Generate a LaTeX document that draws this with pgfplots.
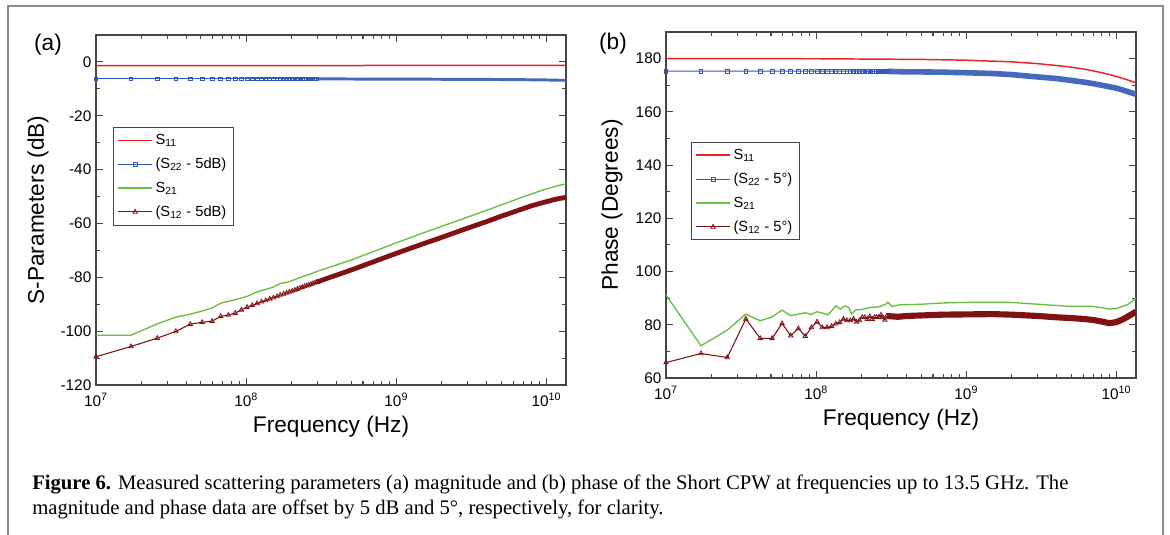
\documentclass[border=0pt]{standalone}
\usepackage{fontspec}
\setmainfont{Liberation Sans}
\newfontfamily\capfont{Liberation Serif}
\usepackage{graphicx}
\usepackage{pgfplots}
\pgfplotsset{compat=1.18}
\usepackage{pgfplotstable}

\definecolor{cRed}{RGB}{236,32,40}
\definecolor{cBlue}{RGB}{52,88,185}
\definecolor{cBand}{RGB}{70,105,190}
\definecolor{cGreen}{RGB}{104,190,62}
\definecolor{cDark}{RGB}{128,18,20}
\definecolor{cAxis}{RGB}{70,70,70}

% low-frequency points (markers visible)
\pgfplotstableread{
f        sa      ta      sb      tb
1.00e7   -6.3   -109.5   175.3   65.8
1.71e7   -6.3   -105.7   175.3   69.2
2.56e7   -6.3   -102.6   175.3   67.7
3.40e7   -6.3   -100.1   175.3   82.2
4.24e7   -6.3    -97.4   175.3   74.9
5.09e7   -6.3    -96.7   175.3   74.9
5.93e7   -6.3    -96.3   175.3   80.5
6.77e7   -6.3    -94.5   175.3   75.9
7.61e7   -6.3    -94.0   175.3   78.6
8.46e7   -6.3    -93.3   175.3   75.7
9.30e7   -6.3    -92.1   175.3   79.0
1.014e8  -6.3    -91.1   175.3   81.1
1.098e8  -6.3    -90.4   175.3   79.0
1.183e8  -6.3    -89.7   175.3   79.0
1.267e8  -6.3    -89.1   175.3   79.4
1.351e8  -6.3    -88.6   175.3   80.4
1.436e8  -6.3    -88.0   175.3   80.9
1.520e8  -6.3    -87.6   175.3   82.2
1.604e8  -6.3    -87.1   175.3   81.6
1.688e8  -6.3    -86.6   175.3   81.6
1.773e8  -6.3    -86.2   175.3   82.2
1.857e8  -6.3    -85.8   175.3   81.1
1.941e8  -6.3    -85.4   175.3   81.6
2.026e8  -6.3    -85.1   175.3   82.8
2.110e8  -6.3    -84.7   175.2   82.8
2.194e8  -6.3    -84.4   175.2   82.1
2.278e8  -6.3    -84.0   175.2   83.1
2.363e8  -6.3    -83.7   175.2   82.1
2.447e8  -6.3    -83.4   175.2   82.8
2.531e8  -6.3    -83.1   175.2   82.8
2.616e8  -6.3    -82.8   175.2   82.8
2.700e8  -6.3    -82.6   175.2   83.7
2.784e8  -6.3    -82.3   175.2   82.8
2.868e8  -6.3    -82.0   175.2   81.8
2.953e8  -6.3    -81.8   175.2   83.3
}\lowtab

% high-frequency points (dense marker band)
\pgfplotstableread{
f        sa      ta      sb      tb
2.953e8  -6.30   -81.8   175.2   83.3
3.5e8    -6.30   -80.3   175.1   83.0
4e8      -6.30   -79.2   175.0   83.3
5e8      -6.35   -77.3   175.0   83.5
7e8      -6.40   -74.3   174.9   83.8
1e9      -6.40   -71.1   174.7   83.9
1.5e9    -6.40   -67.6   174.4   84.0
2e9      -6.45   -65.2   174.0   83.8
3e9      -6.50   -61.7   173.1   83.3
4e9      -6.50   -59.3   172.5   82.8
5e9      -6.55   -57.3   171.8   82.5
6e9      -6.60   -55.8   171.2   82.2
7e9      -6.60   -54.5   170.6   81.8
8e9      -6.65   -53.4   170.0   81.2
9e9      -6.70   -52.6   169.4   80.6
1e10     -6.70   -51.9   168.9   81.0
1.1e10   -6.75   -51.3   168.2   82.0
1.2e10   -6.80   -50.8   167.5   83.2
1.35e10  -6.80   -50.3   166.6   84.9
}\hightab

\pgfplotstableread{
f        v
1e7     -1.4
1e8     -1.4
6e8     -1.4
6.2e8   -1.3
1e9     -1.3
1e10    -1.3
1.35e10 -1.3
}\saa

\pgfplotstableread{
f        v
1.00e7  -101.5
1.71e7  -101.5
2.56e7   -97.3
3.40e7   -94.8
4.24e7   -93.7
5.09e7   -92.5
5.93e7   -91.4
6.77e7   -89.6
8.46e7   -88.3
1.014e8  -87.1
1.183e8  -85.4
1.351e8  -84.5
1.520e8  -83.6
1.688e8  -82.3
1.857e8  -81.9
2.026e8  -81.2
2.363e8  -79.8
2.700e8  -78.7
3e8      -77.7
4e8      -75.4
5e8      -73.6
7e8      -70.5
1e9      -67.2
1.5e9    -63.6
2e9      -61.1
3e9      -57.6
4e9      -55.1
5e9      -53.1
6e9      -51.5
7e9      -50.1
8e9      -49.0
9e9      -48.0
1e10     -47.2
1.2e10   -45.9
1.35e10  -45.3
}\gra

\pgfplotstableread{
f        v
1e7      180.0
1e8      179.95
5e8      179.7
1e9      179.4
2e9      178.8
3e9      178.1
4e9      177.4
5e9      176.8
6e9      176.1
7e9      175.4
8e9      174.7
9e9      174.0
1e10     173.3
1.1e10   172.6
1.2e10   171.9
1.35e10  170.9
}\sab

\pgfplotstableread{
f        v
1.00e7   91.2
1.71e7   72.1
2.56e7   78.0
3.40e7   84.0
4.24e7   81.5
5.09e7   83.0
5.93e7   85.5
6.77e7   83.4
8.46e7   84.5
9.30e7   83.9
1.014e8  84.9
1.10e8   84.4
1.20e8   83.7
1.35e8   87.1
1.45e8   85.9
1.55e8   87.1
1.65e8   86.5
1.72e8   84.0
1.85e8   85.7
2.0e8    85.7
2.3e8    86.5
2.6e8    86.7
2.9e8    87.7
3.0e8    88.5
3.2e8    86.9
3.6e8    87.5
5e8      87.7
7e8      88.2
1e9      88.4
2e9      88.4
3e9      87.7
5e9      86.9
7e9      86.9
8e9      86.4
9e9      85.9
1e10     86.1
1.2e10   87.7
1.35e10  89.9
}\grb

\pgfplotsset{
  every axis/.append style={
    scale only axis, width=352.5pt,
    xmin=1e7, xmax=1.35e10,
    xtick={1e7,1e8,1e9,1e10},
    xticklabels={10\textsuperscript{7},10\textsuperscript{8},10\textsuperscript{9},10\textsuperscript{10}},
    axis line style={draw=cAxis, line width=1.1pt},
    major tick length=5.5pt, minor tick length=3pt,
    tick style={cAxis, line width=0.8pt},
    tick label style={font=\fontsize{11.5}{13}\selectfont},
    xticklabel style={yshift=-2.5pt},
    label style={font=\fontsize{17}{20}\selectfont},
    minor y tick num=1,
    xlabel style={at={(rel axis cs:0.5,0)}, anchor=center, yshift=-31pt},
    legend cell align=left,
    legend image code/.code={\draw[mark repeat=2,mark phase=2] plot coordinates {(0cm,0cm) (0.45cm,0cm) (0.9cm,0cm)};},
    legend style={draw=cAxis, line width=0.6pt, font=\fontsize{11}{13}\selectfont,
      anchor=north west, inner xsep=3pt, inner ysep=3pt, row sep=4.6pt},
  },
}

\begin{document}
\begin{tikzpicture}
\useasboundingbox (0,0) rectangle (877.5pt,401.25pt);
\draw[black!45, line width=1.4pt] (6pt,0) -- (6pt,396.75pt) -- (872.25pt,396.75pt) -- (872.25pt,0);

\node[font=\fontsize{17}{20}\selectfont] at (36pt,367.5pt) {(a)};
\node[font=\fontsize{17}{20}\selectfont] at (459.75pt,368.25pt) {(b)};

\begin{semilogxaxis}[at={(72pt,112.5pt)}, anchor=south west, height=262.5pt,
  /pgf/number format/assume math mode=true,
  ymin=-120, ymax=10, ytick={-120,-100,-80,-60,-40,-20,0},
  xlabel={Frequency (Hz)}, ylabel={S-Parameters (dB)},
  ylabel style={at={(rel axis cs:0,0.5)}, anchor=center, yshift=43.5pt},
  legend style={at={(rel axis cs:0.036,0.737)}}]
\addplot[cRed, line width=1.1pt] table[x=f,y=v] {\saa};
\addlegendentry{S\textsubscript{11}}
\addplot[cBlue, line width=0.7pt, mark=square, mark size=1.4pt, mark options={fill=white, line width=0.6pt}] table[x=f,y=sa] {\lowtab};
\addlegendentry{(S\textsubscript{22} - 5dB)}
\addplot[cBand, line width=2.2pt, forget plot] table[x=f,y=sa] {\hightab};
\addplot[cGreen, line width=1.0pt] table[x=f,y=v] {\gra};
\addlegendentry{S\textsubscript{21}}
\addplot[cDark, line width=0.8pt, mark=triangle, mark size=1.9pt, mark options={fill=white, line width=0.6pt}] table[x=f,y=ta] {\lowtab};
\addlegendentry{(S\textsubscript{12} - 5dB)}
\addplot[cDark, line width=3.6pt, forget plot] table[x=f,y=ta] {\hightab};
\end{semilogxaxis}

\begin{semilogxaxis}[at={(499.5pt,117.75pt)}, anchor=south west, height=259.5pt,
  /pgf/number format/assume math mode=true,
  ymin=60, ymax=190, ytick={60,80,100,120,140,160,180},
  xlabel={Frequency (Hz)}, ylabel={Phase (Degrees)},
  ylabel style={at={(rel axis cs:0,0.5)}, anchor=center, yshift=40.5pt},
  legend style={at={(rel axis cs:0.053,0.682)}}]
\addplot[cRed, line width=1.1pt] table[x=f,y=v] {\sab};
\addlegendentry{S\textsubscript{11}}
\addplot[cBlue, line width=0.7pt, mark=square, mark size=1.4pt, mark options={fill=white, line width=0.6pt}] table[x=f,y=sb] {\lowtab};
\addlegendentry{(S\textsubscript{22} - 5°)}
\addplot[cBand, line width=4.2pt, forget plot] table[x=f,y=sb] {\hightab};
\addplot[cGreen, line width=1.0pt] table[x=f,y=v] {\grb};
\addlegendentry{S\textsubscript{21}}
\addplot[cDark, line width=0.8pt, mark=triangle, mark size=1.9pt, mark options={fill=white, line width=0.6pt}] table[x=f,y=tb] {\lowtab};
\addlegendentry{(S\textsubscript{12} - 5°)}
\addplot[cDark, line width=4.6pt, forget plot] table[x=f,y=tb] {\hightab};
\end{semilogxaxis}

\node[anchor=north west, inner sep=0pt] at (24pt,47.5pt) {\resizebox{777pt}{!}{\capfont\begin{tabular}{@{}l@{}}
\textbf{Figure 6.} Measured scattering parameters (a) magnitude and (b) phase of the Short CPW at frequencies up to 13.5 GHz. The\\
magnitude and phase data are offset by 5 dB and 5°, respectively, for clarity.
\end{tabular}}};
\end{tikzpicture}
\end{document}
